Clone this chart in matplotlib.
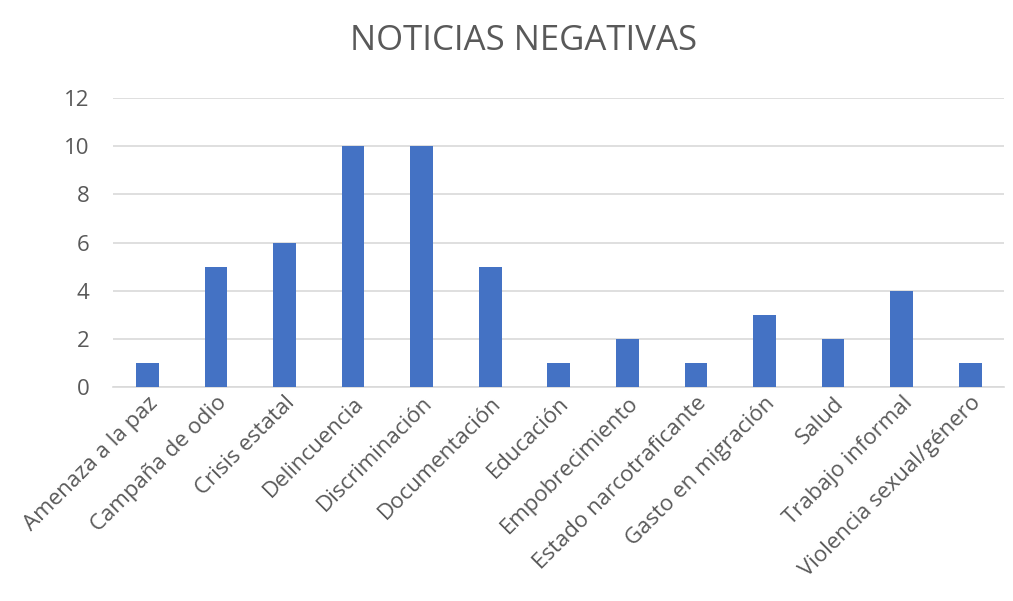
import matplotlib
matplotlib.use("Agg")
import matplotlib.pyplot as plt
import numpy as np

categorias = ["Amenaza a la paz", "Campaña de odio", "Crisis estatal", "Delincuencia",
              "Discriminación", "Documentación", "Educación", "Empobrecimiento",
              "Estado narcotraficante", "Gasto en migración", "Salud", "Trabajo informal",
              "Violencia sexual/género"]
valores = [1, 5, 6, 10, 10, 5, 1, 2, 1, 3, 2, 4, 1]

plt.rcParams['font.family'] = ['Open Sans', 'DejaVu Sans']

fig = plt.figure(figsize=(10.13, 6.01), dpi=100)
ax = fig.add_axes([0.1116, 0.356, 0.880, 0.481])

x = np.arange(len(categorias))
ax.bar(x, valores, width=0.33, color='#4472C4', zorder=3)

ax.set_xlim(-0.5, len(categorias) - 0.5)
ax.set_ylim(0, 12)
ax.set_yticks(range(0, 13, 2))
ax.yaxis.grid(True, color='#D9D9D9', linewidth=1.2, zorder=0)
for s in ['top', 'right', 'left']:
    ax.spines[s].set_visible(False)
ax.spines['bottom'].set_color('#D9D9D9')
ax.spines['bottom'].set_linewidth(1.2)
ax.tick_params(axis='both', length=0, labelsize=16, colors='#595959')
ax.tick_params(axis='y', pad=17)
ax.tick_params(axis='x', pad=4)
ax.set_xticks(x)
ax.set_xticklabels(categorias, rotation=45, ha='right', rotation_mode='anchor')

fig.text(0.517, 0.932, 'NOTICIAS NEGATIVAS', ha='center', va='center', fontsize=25, color='#595959')

fig.savefig('out.png', dpi=100)
